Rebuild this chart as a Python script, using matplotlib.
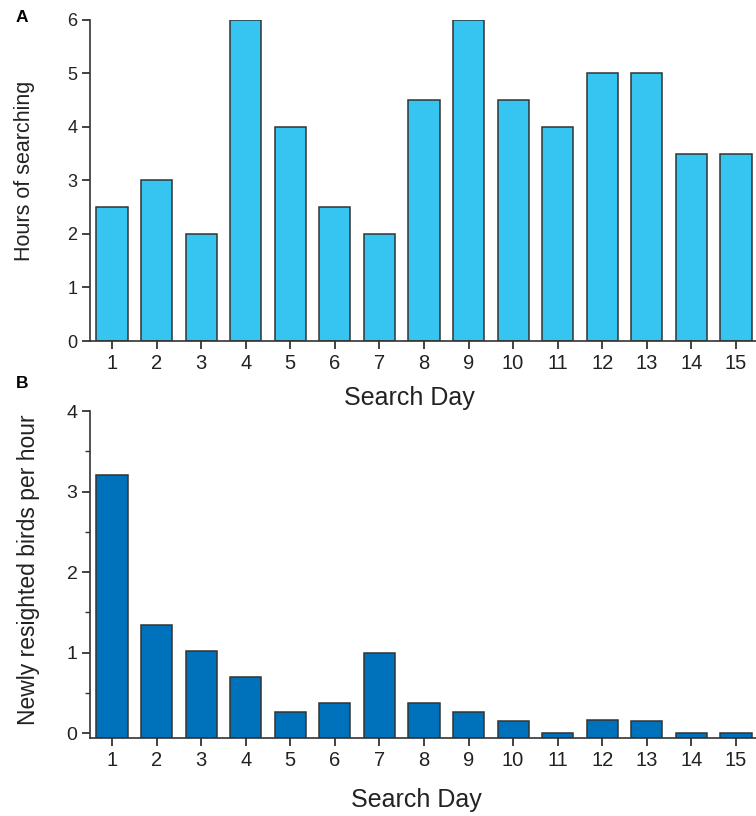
import matplotlib.pyplot as plt
import numpy as np

plt.rcParams['font.family'] = ['Liberation Sans', 'DejaVu Sans']

# data
days = list(range(1, 16))
hours = [2.5, 3, 2, 6, 4, 2.5, 2, 4.5, 6, 4.5, 4, 5, 5, 3.5, 3.5]
birds_per_hour = [3.20, 1.34, 1.02, 0.70, 0.26, 0.37, 1.00, 0.37, 0.27, 0.15, 0.0, 0.16, 0.15, 0.0, 0.0]

col_a = '#36C5F0'
col_b = '#0072BC'
edge = '#333333'
txt = '#222222'
W, H = 756, 816

fig = plt.figure(figsize=(W / 100, H / 100), dpi=100)


def style(ax, ysize):
    for s in ['top', 'right']:
        ax.spines[s].set_visible(False)
    for s in ['left', 'bottom']:
        ax.spines[s].set_color(edge)
        ax.spines[s].set_linewidth(1.2)
    ax.tick_params(axis='both', direction='out', length=6, width=1.2, color=edge)
    ax.tick_params(axis='x', labelsize=14.5, colors=txt, pad=3)
    ax.tick_params(axis='y', labelsize=ysize, colors=txt, pad=3)
    ax.set_xticks(days)


# ===== Panel A =====
axA = fig.add_axes([90 / W, 1 - 341 / H, 666 / W, (341 - 19.7) / H])
axA.bar(days, hours, width=0.7, color=col_a, edgecolor=edge, linewidth=1.1)
axA.set_xlim(0.506, 15.45)
axA.set_ylim(0, 6)
axA.set_yticks(range(0, 7))
style(axA, 13)
axA.set_ylabel('Hours of searching', fontsize=15.5, color=txt, va='center')
axA.yaxis.set_label_coords(-0.099, 0.529)
axA.set_xlabel('Search Day', fontsize=18, color=txt, va='center')
axA.xaxis.set_label_coords(0.48, -0.1774)
fig.text(22 / W, 1 - 18 / H, 'A', fontsize=12.5, fontweight='bold', ha='center', va='center')

# ===== Panel B =====
base = -0.062
axB = fig.add_axes([90 / W, 1 - 738.3 / H, 666 / W, (738.3 - 411) / H])
vals = np.array(birds_per_hour)
axB.bar(days, vals - base, bottom=base, width=0.7, color=col_b, edgecolor=edge, linewidth=1.1)
axB.set_xlim(0.506, 15.45)
axB.set_ylim(base, 4)
axB.set_yticks(range(0, 5))
axB.set_yticks([0.5, 1.5, 2.5, 3.5], minor=True)
style(axB, 14)
axB.tick_params(axis='y', which='minor', length=3.5, width=1.0, color=edge)
axB.set_ylabel('Newly resighted birds per hour', fontsize=16.5, color=txt, va='center')
axB.yaxis.set_label_coords(-0.0923, 0.514)
axB.set_xlabel('Search Day', fontsize=18, color=txt, va='center')
axB.xaxis.set_label_coords(0.4895, -0.1885)
fig.text(22 / W, 1 - 383 / H, 'B', fontsize=12.5, fontweight='bold', ha='center', va='center')

fig.savefig('out.png', dpi=100, facecolor='white')
